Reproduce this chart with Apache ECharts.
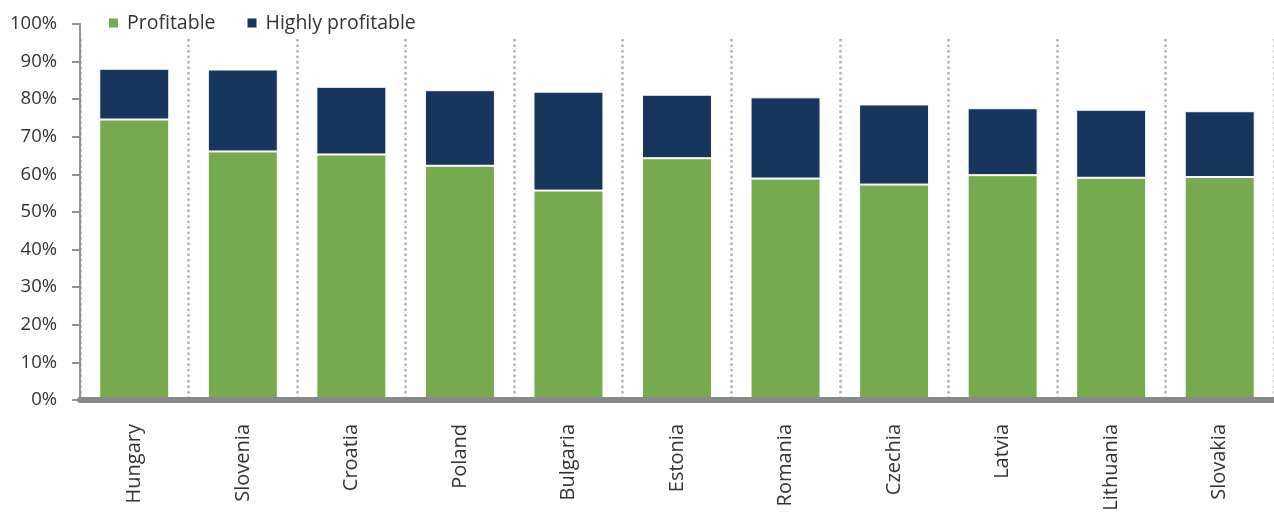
<!DOCTYPE html>
<html>
<head>
<meta charset="utf-8">
<script src="https://cdn.jsdelivr.net/npm/echarts@6/dist/echarts.min.js"></script>
<style>
  html, body { margin: 0; padding: 0; background: #fff; }
  #chart { width: 1274px; height: 519px; }
</style>
</head>
<body>
<div id="chart"></div>
<script>
const countries = ['Hungary', 'Slovenia', 'Croatia', 'Poland', 'Bulgaria', 'Estonia',
  'Romania', 'Czechia', 'Latvia', 'Lithuania', 'Slovakia'];
// share of firms, %
const profitable = [74.6, 66.1, 65.3, 62.3, 55.7, 64.3, 58.9, 57.3, 59.8, 59.1, 59.3];
const totalShare = [88.1, 87.9, 83.3, 82.4, 82.0, 81.2, 80.5, 78.6, 77.6, 77.2, 76.8];
const highlyProfitable = totalShare.map((t, i) => +(t - profitable[i]).toFixed(1));

const font = 'Open Sans';
const textColor = '#333';

const chart = echarts.init(document.getElementById('chart'), null, { renderer: 'canvas' });

chart.setOption({
  animation: false,
  textStyle: { fontFamily: font },
  legend: {
    top: 8,
    left: 102,
    itemWidth: 11,
    itemHeight: 11,
    itemGap: 30,
    icon: 'rect',
    textStyle: { fontFamily: font, fontSize: 19.5, color: textColor, padding: [0, 0, 0, 3] },
    data: ['Profitable', 'Highly profitable']
  },
  grid: [
    { left: 80, right: 0, top: 24, bottom: 119 },
    // separators only, they start a bit lower than the plot top
    { left: 80, right: 0, top: 39, bottom: 119 }
  ],
  xAxis: [
    {
      type: 'category',
      gridIndex: 0,
      data: countries,
      axisLine: { lineStyle: { color: '#878a8c', width: 6 } },
      axisTick: { show: false },
      axisLabel: {
        rotate: 90,
        fontFamily: font,
        fontSize: 20,
        color: textColor,
        margin: 24
      },
      splitLine: { show: false },
      z: 5
    },
    {
      type: 'category',
      gridIndex: 1,
      data: countries,
      axisLine: { show: false },
      axisTick: { show: false },
      axisLabel: { show: false },
      splitLine: { show: true, lineStyle: { color: '#b3b3b3', width: 2.5, type: [2.5, 3] } }
    }
  ],
  yAxis: [
    {
      type: 'value',
      gridIndex: 0,
      min: 0,
      max: 100,
      interval: 10,
      axisLine: { show: true, lineStyle: { color: '#8f9294', width: 2 } },
      axisTick: { show: true, inside: false, length: 8, lineStyle: { color: '#8f9294', width: 2 } },
      axisLabel: {
        formatter: '{value}%',
        fontFamily: font,
        fontSize: 18.5,
        color: textColor,
        margin: 23
      },
      splitLine: { show: false }
    },
    {
      type: 'value',
      gridIndex: 1,
      min: 0,
      max: 100,
      show: false,
      splitLine: { show: false }
    }
  ],
  series: [
    {
      name: 'Profitable',
      type: 'bar',
      stack: 'share',
      barWidth: 70,
      data: profitable,
      itemStyle: { color: '#75aa4f', borderColor: '#ffffff', borderWidth: 1 }
    },
    {
      name: 'Highly profitable',
      type: 'bar',
      stack: 'share',
      barWidth: 70,
      data: highlyProfitable,
      itemStyle: { color: '#17365d', borderColor: '#ffffff', borderWidth: 1 }
    }
  ]
});

window.addEventListener('resize', function () {
  chart.resize();
});
</script>
</body>
</html>
